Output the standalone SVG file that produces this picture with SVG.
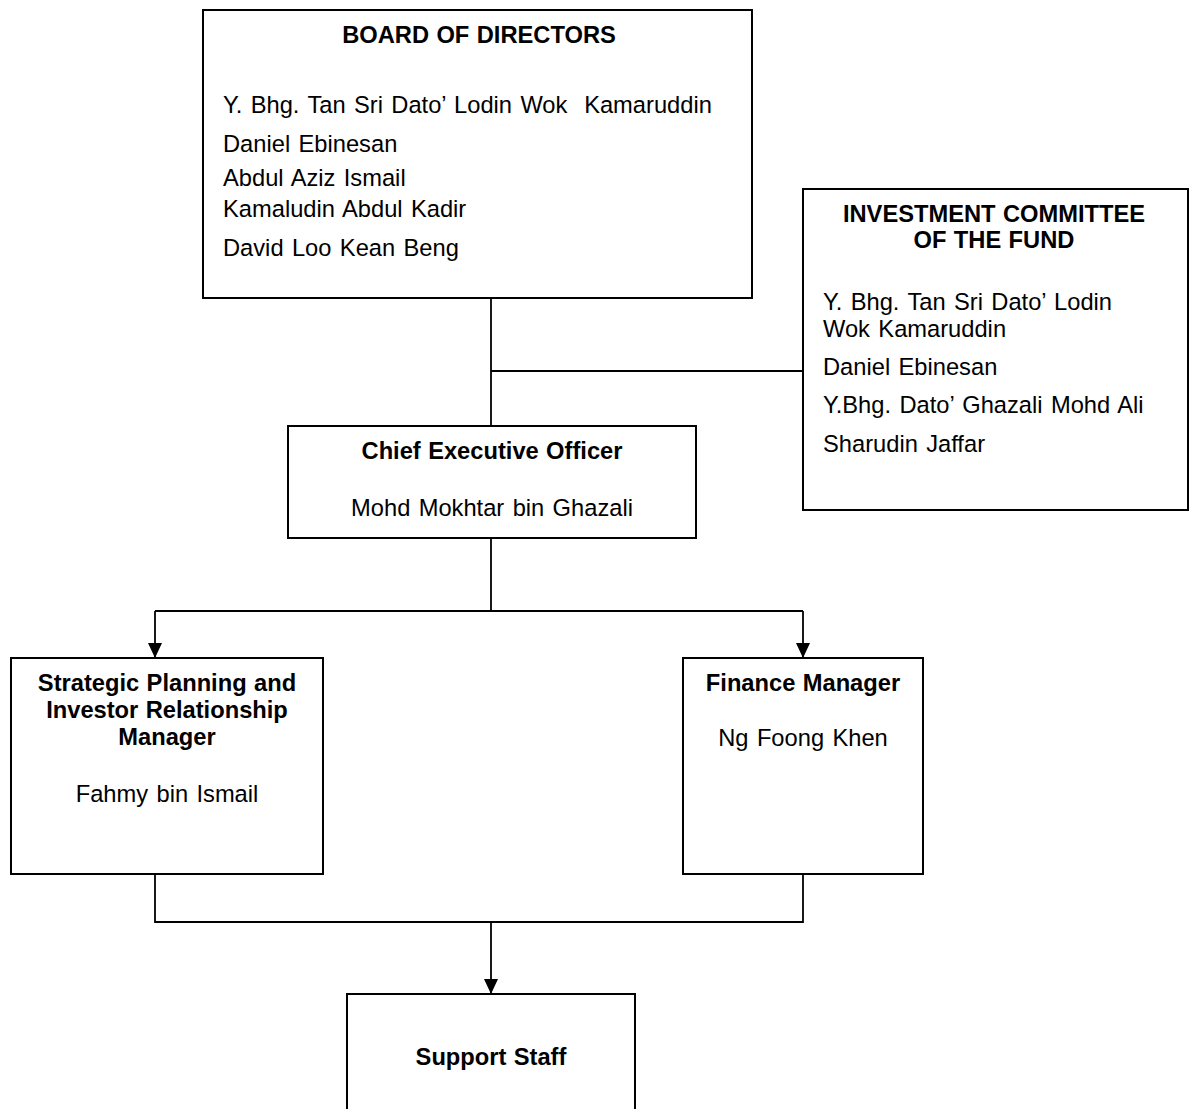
<svg xmlns="http://www.w3.org/2000/svg" width="1191" height="1109" viewBox="0 0 1191 1109">
<style>
.box{fill:#fff;stroke:#000;stroke-width:2}
.con{fill:none;stroke:#000;stroke-width:1.8}
text{font-family:"Liberation Sans",Arial,sans-serif;font-size:23.7px;fill:#000;word-spacing:1.8px}
.b{font-weight:bold;word-spacing:0.8px}
.c{text-anchor:middle}
</style>
<defs>
<marker id="arr" viewBox="0 0 15 14" refX="15" refY="7" markerWidth="15" markerHeight="14" markerUnits="userSpaceOnUse" orient="auto">
<path d="M0,0 L15,7 L0,14 z" fill="#000"/>
</marker>
</defs>
<rect width="1191" height="1109" fill="#fff"/>
<g id="connectors">
<path class="con" d="M491,298 V426"/>
<path class="con" d="M491,371 H803"/>
<path class="con" d="M491,538 V611 M155,611 H803"/>
<path class="con" d="M155,611 V658" marker-end="url(#arr)"/>
<path class="con" d="M803,611 V658" marker-end="url(#arr)"/>
<path class="con" d="M155,874 V922 H803 V874"/>
<path class="con" d="M491,922 V994" marker-end="url(#arr)"/>
</g>
<g id="board">
<rect class="box" x="203" y="10" width="549" height="288"/>
<text class="b c" x="479" y="43">BOARD OF DIRECTORS</text>
<text x="223" y="113" xml:space="preserve">Y. Bhg. Tan Sri Dato’ Lodin Wok  Kamaruddin</text>
<text x="223" y="152">Daniel Ebinesan</text>
<text x="223" y="186">Abdul Aziz Ismail</text>
<text x="223" y="217">Kamaludin Abdul Kadir</text>
<text x="223" y="256">David Loo Kean Beng</text>
</g>
<g id="investment">
<rect class="box" x="803" y="189" width="385" height="321"/>
<text class="b c" x="994" y="222">INVESTMENT COMMITTEE</text>
<text class="b c" x="994" y="248">OF THE FUND</text>
<text x="823" y="310">Y. Bhg. Tan Sri Dato’ Lodin</text>
<text x="823" y="337">Wok Kamaruddin</text>
<text x="823" y="375">Daniel Ebinesan</text>
<text x="823" y="413">Y.Bhg. Dato’ Ghazali Mohd Ali</text>
<text x="823" y="452">Sharudin Jaffar</text>
</g>
<g id="ceo">
<rect class="box" x="288" y="426" width="408" height="112"/>
<text class="b c" x="492" y="459">Chief Executive Officer</text>
<text class="c" x="492" y="516">Mohd Mokhtar bin Ghazali</text>
</g>
<g id="strategic">
<rect class="box" x="11" y="658" width="312" height="216"/>
<text class="b c" x="167" y="691">Strategic Planning and</text>
<text class="b c" x="167" y="718">Investor Relationship</text>
<text class="b c" x="167" y="745">Manager</text>
<text class="c" x="167" y="802">Fahmy bin Ismail</text>
</g>
<g id="finance">
<rect class="box" x="683" y="658" width="240" height="216"/>
<text class="b c" x="803" y="691">Finance Manager</text>
<text class="c" x="803" y="746">Ng Foong Khen</text>
</g>
<g id="support">
<rect class="box" x="347" y="994" width="288" height="130"/>
<text class="b c" x="491" y="1065">Support Staff</text>
</g>
</svg>
